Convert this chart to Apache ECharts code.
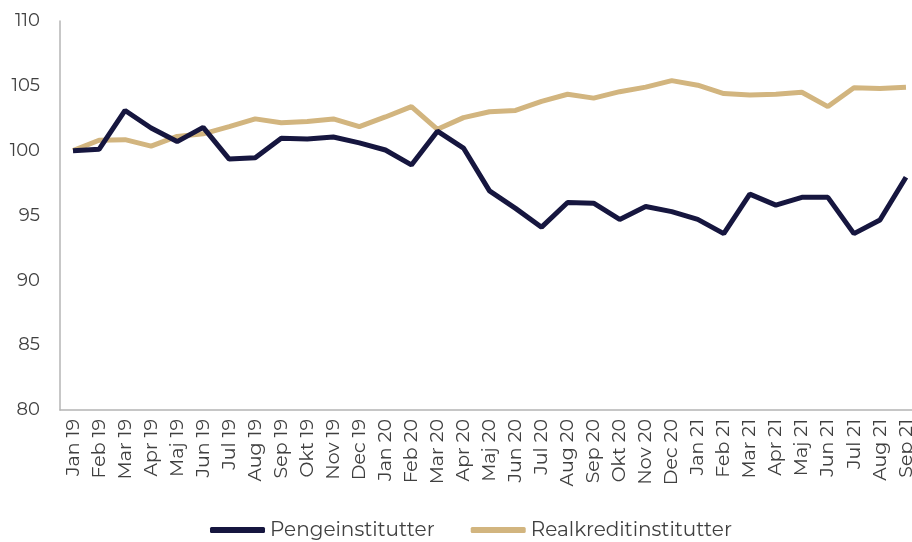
<!DOCTYPE html>
<html>
<head>
<meta charset="utf-8">
<script src="https://cdn.jsdelivr.net/npm/echarts@6/dist/echarts.min.js"></script>
<style>
  html, body { margin: 0; padding: 0; background: #fff; overflow: hidden; }
  #chart { width: 930px; height: 542px; }
</style>
</head>
<body>
<div id="chart"></div>
<script>
// måneder jan 19 - sep 21
const months = ['Jan 19', 'Feb 19', 'Mar 19', 'Apr 19', 'Maj 19', 'Jun 19', 'Jul 19', 'Aug 19', 'Sep 19', 'Okt 19', 'Nov 19', 'Dec 19',
  'Jan 20', 'Feb 20', 'Mar 20', 'Apr 20', 'Maj 20', 'Jun 20', 'Jul 20', 'Aug 20', 'Sep 20', 'Okt 20', 'Nov 20', 'Dec 20',
  'Jan 21', 'Feb 21', 'Mar 21', 'Apr 21', 'Maj 21', 'Jun 21', 'Jul 21', 'Aug 21', 'Sep 21'];

const pengeinstitutter = [100.0, 100.1, 103.1, 101.75, 100.7, 101.8, 99.35, 99.45, 100.95, 100.9, 101.05, 100.6,
  100.05, 98.9, 101.5, 100.2, 96.9, 95.55, 94.1, 96.0, 95.95, 94.7, 95.7, 95.3,
  94.7, 93.6, 96.65, 95.8, 96.4, 96.4, 93.6, 94.65, 97.95];

const realkredit = [100.0, 100.8, 100.85, 100.35, 101.1, 101.3, 101.85, 102.45, 102.15, 102.25, 102.45, 101.85,
  102.6, 103.4, 101.65, 102.55, 103.0, 103.1, 103.8, 104.35, 104.05, 104.55, 104.9, 105.4,
  105.05, 104.4, 104.3, 104.35, 104.5, 103.4, 104.85, 104.8, 104.9];

const seriesNames = ['Pengeinstitutter', 'Realkreditinstitutter'];
const colors = ['#16163f', '#d2b57f'];

const fontFamily = 'Montserrat, "Noto Sans", "Open Sans", sans-serif';

// div er lidt bredere end vinduet, så sidste kategori skæres af som i originalen
let chart = echarts.init(document.getElementById('chart'));
chart.setOption({
  animation: false,
  color: colors,
  grid: {
    left: 60,
    right: 11,
    top: 21,
    bottom: 132,
    containLabel: false,
  },
  legend: {
    top: 515,
    left: 205,
    icon: 'roundRect',
    itemWidth: 55,
    itemHeight: 6,
    itemGap: 36,
    textStyle: {
      fontFamily: fontFamily,
      fontSize: 20,
      color: '#404040',
    },
    data: seriesNames,
  },
  xAxis: {
    type: 'category',
    data: months,
    boundaryGap: true,
    axisLine: { lineStyle: { color: '#b4b4b4', width: 1.5 } },
    axisTick: { show: false },
    axisLabel: {
      rotate: 90,
      interval: 0,
      margin: 9,
      fontFamily: fontFamily,
      fontSize: 19,
      color: '#404040',
    },
  },
  yAxis: {
    type: 'value',
    min: 80,
    max: 110,
    interval: 5,
    splitLine: { show: false },
    axisLine: { show: true, lineStyle: { color: '#b4b4b4', width: 1.5 } },
    axisTick: { show: false },
    axisLabel: {
      margin: 20,
      fontFamily: fontFamily,
      fontSize: 18,
      color: '#404040',
    },
  },
  series: [{
    name: seriesNames[0],
    type: 'line',
    data: pengeinstitutter,
    showSymbol: false,
    lineStyle: { width: 5, color: colors[0] },
    z: 3,
  }, {
    name: seriesNames[1],
    type: 'line',
    data: realkredit,
    showSymbol: false,
    lineStyle: { width: 5, color: colors[1] },
    z: 2,
  }],
});
</script>
</body>
</html>
